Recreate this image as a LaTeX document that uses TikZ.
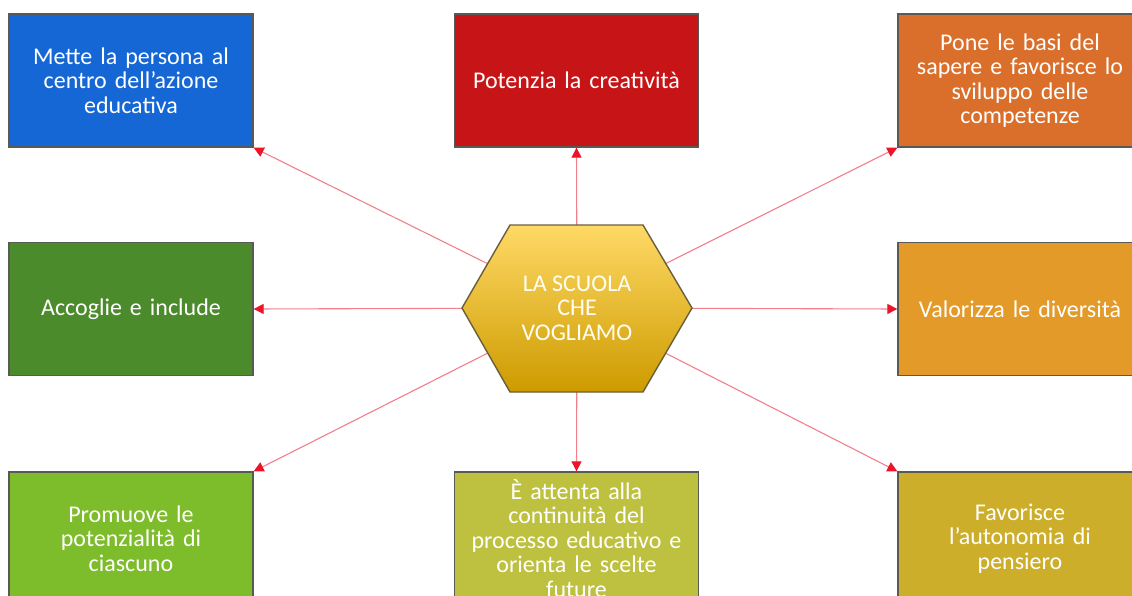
\documentclass[tikz,border=0pt]{standalone}
\usepackage{fontspec}
\setmainfont{Carlito}
\usetikzlibrary{arrows.meta}
\definecolor{cBlue}{RGB}{21,103,214}
\definecolor{cRed}{RGB}{199,21,23}
\definecolor{cOrange}{RGB}{218,111,43}
\definecolor{cGreen}{RGB}{75,139,43}
\definecolor{cOrangeB}{RGB}{227,154,40}
\definecolor{cLime}{RGB}{125,188,42}
\definecolor{cOlive}{RGB}{190,193,63}
\definecolor{cGold}{RGB}{205,174,42}
\definecolor{cLine}{RGB}{242,128,140}
\definecolor{cTip}{RGB}{235,20,40}
\definecolor{cBorder}{RGB}{90,90,85}
\definecolor{hexTop}{RGB}{255,217,102}
\definecolor{hexMid}{RGB}{255,194,20}
\definecolor{hexBot}{RGB}{205,155,0}
\definecolor{hexBorder}{RGB}{105,95,60}
\begin{document}
\begin{tikzpicture}[x=1pt,y=-1pt,
  box/.style={draw=cBorder, line width=1.3pt, minimum width=244pt, minimum height=133pt,
    text width=236pt, align=center, text=white, inner sep=0pt,
    font=\fontsize{24}{24.5}\selectfont},
  conn/.style={draw=cLine, line width=1.1pt, -{Triangle[length=10pt,width=10pt,color=cTip,fill=cTip]}},
  hextext/.style={text=white!96!yellow, align=center, font=\fontsize{24}{24.5}\selectfont}
]
\clip (0,0) rectangle (1132,596);
\fill[white] (0,0) rectangle (1132,596);
% boxes
\node[box, fill=cBlue]   (b1) at (131,80.5)  {Mette la persona al\\ centro dell’azione\\ educativa};
\node[box, fill=cRed]    (b2) at (576.5,80.5) {Potenzia la creatività};
\node[box, fill=cOrange] (b3) at (1020,80.5) {Pone le basi del\\ sapere e favorisce lo\\ sviluppo delle\\ competenze};
\node[box, fill=cGreen]  (b4) at (131,309)   {Accoglie e include};
\node[box, fill=cOrangeB](b5) at (1020,309)  {Valorizza le diversità};
\node[box, fill=cLime]   (b6) at (131,538.5) {Promuove le\\ potenzialità di\\ ciascuno};
\node[box, fill=cOlive]  (b7) at (576.5,538.5) {È attenta alla\\ continuità del\\ processo educativo e\\ orienta le scelte\\ future};
\node[box, fill=cGold]   (b8) at (1020,538.5) {Favorisce\\ l’autonomia di\\ pensiero};
% connectors from the hexagon centre
\coordinate (hc) at (577,308);
\draw[conn] (hc) -- (b1.south east);
\draw[conn] (hc) -- (b2.south);
\draw[conn] (hc) -- (b3.south west);
\draw[conn] (hc) -- (b4.east);
\draw[conn] (hc) -- (b5.west);
\draw[conn] (hc) -- (b6.north east);
\draw[conn] (hc) -- (b7.north);
\draw[conn] (hc) -- (b8.north west);
% hexagon
\path[draw=hexBorder, line width=1.4pt, top color=hexTop, middle color=hexMid, bottom color=hexBot]
  (462,308) -- (510,225) -- (643,225) -- (692,308) -- (643,392) -- (510,392) -- cycle;
\node[hextext] (hex) at (hc) {LA SCUOLA\\ CHE\\ VOGLIAMO};
\end{tikzpicture}
\end{document}
